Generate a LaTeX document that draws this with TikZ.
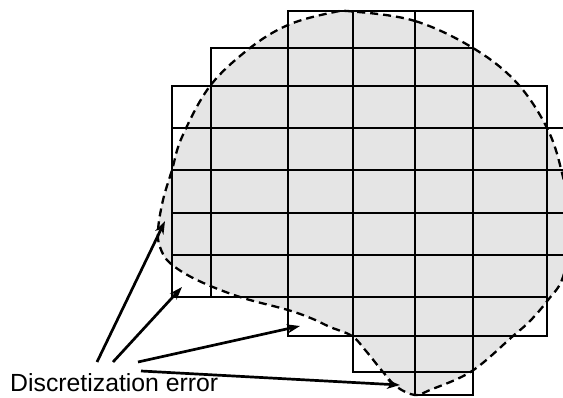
\documentclass[tikz,border=0pt]{standalone}
\usepackage{fontspec}
\setmainfont{Liberation Sans}
\usetikzlibrary{arrows.meta}
\definecolor{shapefill}{RGB}{229,229,229}
\tikzset{
  gridline/.style={line width=2.6pt, line cap=rect},
  outline/.style={line width=2.3pt, dash pattern=on 8pt off 5pt},
  errarrow/.style={line width=2.7pt, -{Stealth[length=13pt,width=9pt,inset=4pt]}},
  label/.style={inner sep=0pt, anchor=base west, font=\fontsize{24.8}{29}\selectfont}
}
\begin{document}
\begin{tikzpicture}[x=1pt,y=-1pt]
\useasboundingbox (0,0) rectangle (563,397);
\clip (0,0) rectangle (563,397);
% region
\def\shapepath{plot[smooth cycle, tension=0.6] coordinates {
 (353,11.5) (415,21) (473,48) (517,83) (548,130) (563,177) (572,227) (563,277)
 (548,300) (530,321) (513,336) (472,371) (430,390) (415,395) (397,387) (383,372)
 (366,351) (352,336) (330,327) (313,319) (288,310) (240,297) (197,280) (170,263)
 (160,247) (158,230) (163,200) (172,170) (182,137) (210,86) (250,48) (288,25) (330,13)}}
\fill[shapefill] \shapepath;
% grid: horizontal lines
\foreach \y/\xa/\xb in {11/288/473, 48/211/473, 86/172/547, 128/172/570, 170/172/570,
  213/172/570, 255/172/570, 297/172/547, 336/288/547, 372/353/473, 395/415/473}
  \draw[gridline] (\xa,\y) -- (\xb,\y);
% grid: vertical lines
\foreach \x/\ya/\yb in {172/86/297, 211/48/297, 288/11/336, 353/11/372, 415/11/395,
  473/11/395, 547/86/336}
  \draw[gridline] (\x,\ya) -- (\x,\yb);
\draw[outline] \shapepath;
% label and arrows
\node[label] (lbl) at (10,391.7) {Discretization error};
\coordinate (s1) at (97,362);
\coordinate (s2) at (113,362);
\coordinate (s3) at (138,362);
\coordinate (s4) at (141,371);
\coordinate (e1) at (165,221);
\coordinate (e2) at (182,287);
\coordinate (e3) at (300,326);
\coordinate (e4) at (400,385);
\draw[errarrow] (s1) -- (e1);
\draw[errarrow] (s2) -- (e2);
\draw[errarrow] (s3) -- (e3);
\draw[errarrow] (s4) -- (e4);
\end{tikzpicture}
\end{document}
